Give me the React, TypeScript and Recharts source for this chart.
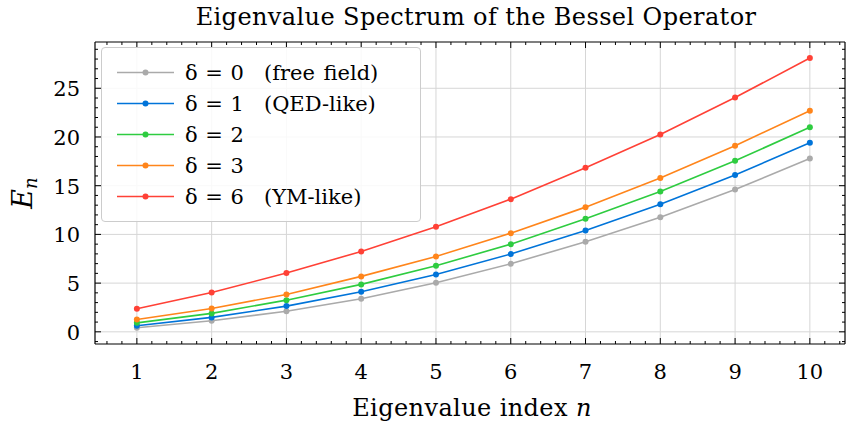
import { CartesianGrid, Legend, Line, LineChart, XAxis, YAxis } from 'recharts';

const N_INDEX = [1, 2, 3, 4, 5, 6, 7, 8, 9, 10];
const DELTA_0 = [0.41, 1.13, 2.12, 3.39, 5.03, 6.98, 9.25, 11.75, 14.6, 17.8];
const DELTA_1 = [0.62, 1.48, 2.64, 4.11, 5.89, 7.98, 10.4, 13.1, 16.1, 19.4];
const DELTA_2 = [0.92, 1.89, 3.25, 4.87, 6.78, 9.0, 11.6, 14.4, 17.55, 21.0];
const DELTA_3 = [1.27, 2.4, 3.84, 5.69, 7.74, 10.13, 12.8, 15.8, 19.1, 22.7];
const DELTA_6 = [2.36, 4.04, 6.03, 8.25, 10.78, 13.62, 16.84, 20.26, 24.05, 28.1];

const X_MAJOR = [1, 2, 3, 4, 5, 6, 7, 8, 9, 10];
const Y_MAJOR = [0, 5, 10, 15, 20, 25];

const SERIES = [
    { key: 'd0', name: 'δ = 0 (free field)', color: '#aaaaaa', values: DELTA_0 },
    { key: 'd1', name: 'δ = 1 (QED-like)', color: '#0074d9', values: DELTA_1 },
    { key: 'd2', name: 'δ = 2', color: '#2ecc40', values: DELTA_2 },
    { key: 'd3', name: 'δ = 3', color: '#ff851b', values: DELTA_3 },
    { key: 'd6', name: 'δ = 6 (YM-like)', color: '#ff4136', values: DELTA_6 },
];

const data = N_INDEX.map((n, i) => {
    const row: Record<string, number> = { n };
    SERIES.forEach((s) => {
        row[s.key] = s.values[i];
    });
    return row;
});

// minor ticks every 0.2 on x and every 1 on y, majors included
const xTicks: number[] = [];
for (let i = 3; i <= 52; i++) xTicks.push(Math.round(i * 2) / 10);
const yTicks: number[] = [];
for (let i = -1; i <= 29; i++) yTicks.push(i);

const FONT = '"DejaVu Serif", "Liberation Serif", serif';
const W = 847;
const H = 423;
const M = { top: 41, right: 1, bottom: 78, left: 94 };
const X_DOMAIN = [0.44, 10.47];
const Y_DOMAIN = [-1.25, 29.75];

const isMajorX = (v: number) => X_MAJOR.includes(v);
const isMajorY = (v: number) => Y_MAJOR.includes(v);

function BottomTick({ x, y, payload }: any) {
    const v = payload.value;
    const major = isMajorX(v);
    return (
        <g>
            <line x1={x} x2={x} y1={y} y2={y - (major ? 6 : 3)} stroke="#000" strokeWidth={1} />
            {major && (
                <text x={x} y={y + 35} textAnchor="middle" fontFamily={FONT} fontSize={21} fill="#000">
                    {v}
                </text>
            )}
        </g>
    );
}

function TopTick({ x, y, payload }: any) {
    const major = isMajorX(payload.value);
    return <line x1={x} x2={x} y1={y} y2={y + (major ? 6 : 3)} stroke="#000" strokeWidth={1} />;
}

function LeftTick({ x, y, payload }: any) {
    const v = payload.value;
    const major = isMajorY(v);
    return (
        <g>
            <line x1={x} x2={x + (major ? 6 : 3)} y1={y} y2={y} stroke="#000" strokeWidth={1} />
            {major && (
                <text x={x - 15} y={y + 8} textAnchor="end" fontFamily={FONT} fontSize={21} fill="#000">
                    {v}
                </text>
            )}
        </g>
    );
}

function RightTick({ x, y, payload }: any) {
    const major = isMajorY(payload.value);
    return <line x1={x} x2={x - (major ? 6 : 3)} y1={y} y2={y} stroke="#000" strokeWidth={1} />;
}

function LegendBox({ payload }: any) {
    const items = payload && payload.length ? payload : SERIES.map((s) => ({ value: s.name, color: s.color }));
    return (
        <div
            style={{
                width: 320,
                padding: '9px 0',
                border: '1px solid #cccccc',
                borderRadius: 4,
                background: 'rgba(255,255,255,0.85)',
                fontFamily: FONT,
                fontSize: 21,
                color: '#000',
                boxSizing: 'border-box',
            }}
        >
            {items.map((item: any) => {
                const label = String(item.value);
                const cut = label.indexOf(' (');
                const head = cut >= 0 ? label.slice(0, cut) : label;
                const tail = cut >= 0 ? label.slice(cut + 1) : '';
                return (
                    <div key={label} style={{ display: 'flex', alignItems: 'center', height: 31 }}>
                        <svg width={68} height={31} style={{ marginLeft: 15, flex: 'none' }}>
                            <line x1={0} x2={57} y1={15.5} y2={15.5} stroke={item.color} strokeWidth={1.6} />
                            <circle cx={28.5} cy={15.5} r={3} fill={item.color} />
                        </svg>
                        <span style={{ whiteSpace: 'nowrap', wordSpacing: 1 }}>{head}</span>
                        {tail && <span style={{ whiteSpace: 'nowrap', marginLeft: 20, wordSpacing: 2 }}>{tail}</span>}
                    </div>
                );
            })}
        </div>
    );
}

export default function App() {
    return (
        <div style={{ position: 'absolute', left: 0, top: 0, width: W, height: H, background: '#fff' }}>
            <LineChart width={W} height={H} data={data} margin={M}>
                <CartesianGrid
                    xAxisId="top"
                    yAxisId="right"
                    stroke="#d6d6d6"
                    strokeWidth={1}
                    horizontalValues={Y_MAJOR}
                    verticalValues={X_MAJOR}
                />
                <XAxis
                    dataKey="n"
                    type="number"
                    domain={X_DOMAIN}
                    ticks={xTicks}
                    interval={0}
                    height={1}
                    tickSize={0}
                    tickMargin={0}
                    tickLine={false}
                    axisLine={{ stroke: '#000', strokeWidth: 1.2 }}
                    tick={<BottomTick />}
                    allowDataOverflow
                />
                <XAxis
                    xAxisId="top"
                    orientation="top"
                    dataKey="n"
                    type="number"
                    domain={X_DOMAIN}
                    ticks={xTicks}
                    interval={0}
                    height={1}
                    tickSize={0}
                    tickMargin={0}
                    tickLine={false}
                    axisLine={{ stroke: '#000', strokeWidth: 1.2 }}
                    tick={<TopTick />}
                    allowDataOverflow
                />
                <YAxis
                    type="number"
                    domain={Y_DOMAIN}
                    ticks={yTicks}
                    interval={0}
                    width={1}
                    tickSize={0}
                    tickMargin={0}
                    tickLine={false}
                    axisLine={{ stroke: '#000', strokeWidth: 1.2 }}
                    tick={<LeftTick />}
                    allowDataOverflow
                />
                <YAxis
                    yAxisId="right"
                    orientation="right"
                    type="number"
                    domain={Y_DOMAIN}
                    ticks={yTicks}
                    interval={0}
                    width={1}
                    tickSize={0}
                    tickMargin={0}
                    tickLine={false}
                    axisLine={{ stroke: '#000', strokeWidth: 1.2 }}
                    tick={<RightTick />}
                    allowDataOverflow
                />
                {SERIES.map((s) => (
                    <Line
                        key={s.key}
                        dataKey={s.key}
                        name={s.name}
                        type="linear"
                        stroke={s.color}
                        strokeWidth={1.6}
                        dot={{ r: 3, fill: s.color, stroke: s.color, strokeWidth: 0 }}
                        activeDot={false}
                        isAnimationActive={false}
                    />
                ))}
                <Legend
                    layout="horizontal"
                    verticalAlign="middle"
                    align="center"
                    content={<LegendBox />}
                    wrapperStyle={{ position: 'absolute', left: 101, top: 47, width: 'auto' }}
                />
                <text x={476} y={25} textAnchor="middle" fontFamily={FONT} fontSize={24} letterSpacing={0.4} fill="#000">
                    Eigenvalue Spectrum of the Bessel Operator
                </text>
                <text x={472} y={416} textAnchor="middle" fontFamily={FONT} fontSize={24} letterSpacing={0.4} fill="#000">
                    Eigenvalue index <tspan fontStyle="italic">n</tspan>
                </text>
                <text
                    x={0}
                    y={0}
                    transform="translate(32 193) rotate(-90)"
                    textAnchor="middle"
                    fontFamily={FONT}
                    fontSize={27}
                    fill="#000"
                >
                    <tspan fontStyle="italic">E</tspan>
                    <tspan fontStyle="italic" fontSize={18} dy={5}>
                        n
                    </tspan>
                </text>
            </LineChart>
        </div>
    );
}
